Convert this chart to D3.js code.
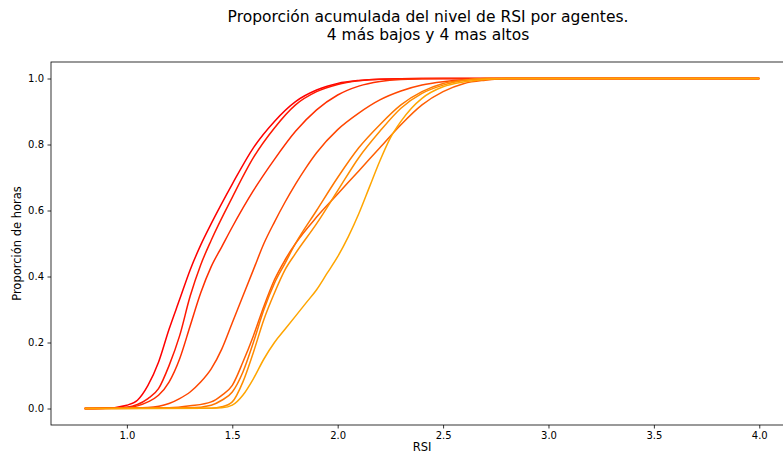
<!DOCTYPE html>
<html>
<head>
<meta charset="utf-8">
<script src="https://cdn.jsdelivr.net/npm/d3@7"></script>
<style>
  body { margin: 0; background: #fff; }
  svg { display: block; overflow: hidden; }
  text { font-family: "DejaVu Sans", sans-serif; fill: #000; }
</style>
</head>
<body>
<svg class="chart"></svg>
<script>
// proporcion acumulada de RSI, 8 agentes (4 bajos, 4 altos)

var xTicks = [1.0, 1.5, 2.0, 2.5, 3.0, 3.5, 4.0];
var yTicks = [0.0, 0.2, 0.4, 0.6, 0.8, 1.0];

// pares [rsi, proporcion]
var agente1 = [[0.8,0],[0.9,0.001],[1.0,0.01],[1.05,0.025],[1.1,0.07],[1.15,0.14],[1.2,0.24],[1.25,0.33],[1.3,0.42],[1.35,0.495],[1.4,0.56],[1.5,0.68],[1.6,0.79],[1.7,0.87],[1.8,0.93],[1.9,0.965],[2.0,0.985],[2.1,0.994],[2.2,0.998],[2.4,1],[4.0,1]];
var agente2 = [[0.8,0],[0.9,0.0005],[1.0,0.004],[1.05,0.012],[1.1,0.03],[1.15,0.06],[1.2,0.13],[1.25,0.22],[1.3,0.34],[1.35,0.435],[1.4,0.51],[1.5,0.64],[1.6,0.76],[1.7,0.85],[1.8,0.92],[1.9,0.96],[2.0,0.982],[2.1,0.993],[2.2,0.998],[2.4,1],[4.0,1]];
var agente3 = [[0.8,0],[1.0,0.003],[1.05,0.008],[1.1,0.02],[1.15,0.04],[1.2,0.08],[1.25,0.15],[1.3,0.25],[1.35,0.35],[1.4,0.43],[1.45,0.49],[1.5,0.55],[1.6,0.66],[1.7,0.755],[1.8,0.84],[1.9,0.905],[2.0,0.95],[2.1,0.977],[2.2,0.991],[2.3,0.997],[2.5,1],[4.0,1]];
var agente4 = [[0.8,0],[1.1,0.003],[1.2,0.015],[1.25,0.03],[1.3,0.05],[1.35,0.08],[1.4,0.12],[1.45,0.18],[1.5,0.26],[1.55,0.34],[1.6,0.42],[1.65,0.5],[1.7,0.565],[1.75,0.625],[1.8,0.68],[1.85,0.73],[1.9,0.775],[2.0,0.845],[2.1,0.895],[2.2,0.935],[2.3,0.962],[2.4,0.98],[2.5,0.99],[2.6,0.996],[2.8,1],[4.0,1]];
var agente5 = [[0.8,0],[1.2,0.002],[1.3,0.008],[1.4,0.02],[1.45,0.04],[1.5,0.07],[1.55,0.14],[1.6,0.22],[1.65,0.31],[1.7,0.39],[1.75,0.45],[1.8,0.5],[1.9,0.58],[2.0,0.65],[2.1,0.72],[2.2,0.79],[2.3,0.86],[2.4,0.92],[2.5,0.96],[2.6,0.985],[2.7,0.995],[2.8,1],[4.0,1]];
var agente6 = [[0.8,0],[1.3,0.002],[1.4,0.01],[1.45,0.025],[1.5,0.05],[1.55,0.11],[1.6,0.2],[1.65,0.3],[1.7,0.38],[1.75,0.44],[1.8,0.5],[1.9,0.6],[2.0,0.7],[2.1,0.79],[2.2,0.86],[2.3,0.92],[2.4,0.96],[2.5,0.985],[2.6,0.995],[2.7,1],[4.0,1]];
var agente7 = [[0.8,0],[1.4,0.001],[1.45,0.005],[1.5,0.02],[1.55,0.08],[1.6,0.17],[1.65,0.27],[1.7,0.35],[1.75,0.42],[1.8,0.47],[1.9,0.56],[2.0,0.66],[2.1,0.76],[2.2,0.84],[2.3,0.91],[2.4,0.955],[2.5,0.98],[2.6,0.995],[2.7,1],[4.0,1]];
var agente8 = [[0.8,0],[1.4,0.0005],[1.45,0.002],[1.5,0.01],[1.55,0.04],[1.6,0.09],[1.65,0.15],[1.7,0.2],[1.75,0.24],[1.8,0.28],[1.85,0.32],[1.9,0.36],[1.95,0.41],[2.0,0.46],[2.05,0.52],[2.1,0.59],[2.15,0.67],[2.2,0.75],[2.25,0.82],[2.3,0.87],[2.35,0.91],[2.4,0.94],[2.5,0.975],[2.6,0.99],[2.7,0.997],[2.8,1],[4.0,1]];

var series = [agente1, agente2, agente3, agente4, agente5, agente6, agente7, agente8];

var ui = {
  width: 783,
  height: 460,
  left: 51,
  right: 793,
  top: 62,
  bottom: 425
};

var chart = d3.select(".chart")
  .attr("width", ui.width)
  .attr("height", ui.height);

var x = d3.scaleLinear().domain([0.64, 4.16]).range([ui.left, ui.right]);
var y = d3.scaleLinear().domain([-0.05, 1.05]).range([ui.bottom, ui.top]);

var color = d3.scaleLinear()
  .domain([0, series.length - 1])
  .range(["#ff0000", "#ffa500"]);

var line = d3.line()
  .x(function(d) { return x(d[0]) })
  .y(function(d) { return y(d[1]) })
  .curve(d3.curveMonotoneX);

chart.selectAll("path.serie")
  .data(series)
  .enter().append("path")
  .attr("class", "serie")
  .attr("d", line)
  .style("fill", "none")
  .style("stroke", function(d, i) { return color(i) })
  .style("stroke-width", 1.5);

// ejes
var xAxis = chart.append("g")
  .attr("transform", "translate(0," + ui.bottom + ")")
  .call(d3.axisBottom(x).tickValues(xTicks).tickFormat(d3.format(".1f")).tickSizeOuter(0).tickSize(3.5).tickPadding(3.5));

var yAxis = chart.append("g")
  .attr("transform", "translate(" + ui.left + ",0)")
  .call(d3.axisLeft(y).tickValues(yTicks).tickFormat(d3.format(".1f")).tickSizeOuter(0).tickSize(3.5).tickPadding(3.5));

[xAxis, yAxis].forEach(function(a) {
  a.select(".domain").remove();
  a.selectAll("line").attr("stroke", "#000").attr("stroke-width", 0.8);
  a.selectAll("text").style("font-size", "10px").style("font-family", "DejaVu Sans").attr("fill", "#000");
});

// marco
chart.append("rect")
  .attr("x", ui.left)
  .attr("y", ui.top)
  .attr("width", ui.right - ui.left)
  .attr("height", ui.bottom - ui.top)
  .style("fill", "none")
  .style("stroke", "#000")
  .style("stroke-width", 0.8);

chart.append("text")
  .attr("x", (ui.left + ui.right) / 2)
  .attr("y", 451)
  .attr("text-anchor", "middle")
  .style("font-size", "11.5px")
  .text("RSI");

chart.append("text")
  .attr("transform", "translate(21," + ((ui.top + ui.bottom) / 2) + ") rotate(-90)")
  .attr("text-anchor", "middle")
  .style("font-size", "11.5px")
  .text("Proporción de horas");

var cx = (ui.left + ui.right) / 2 + 6;
var title = chart.append("text")
  .attr("x", cx)
  .attr("text-anchor", "middle")
  .style("font-size", "15.5px");
title.append("tspan").attr("x", cx).attr("y", 22).text("Proporción acumulada del nivel de RSI por agentes.");
title.append("tspan").attr("x", cx).attr("y", 40).text("4 más bajos y 4 mas altos");
</script>
</body>
</html>
